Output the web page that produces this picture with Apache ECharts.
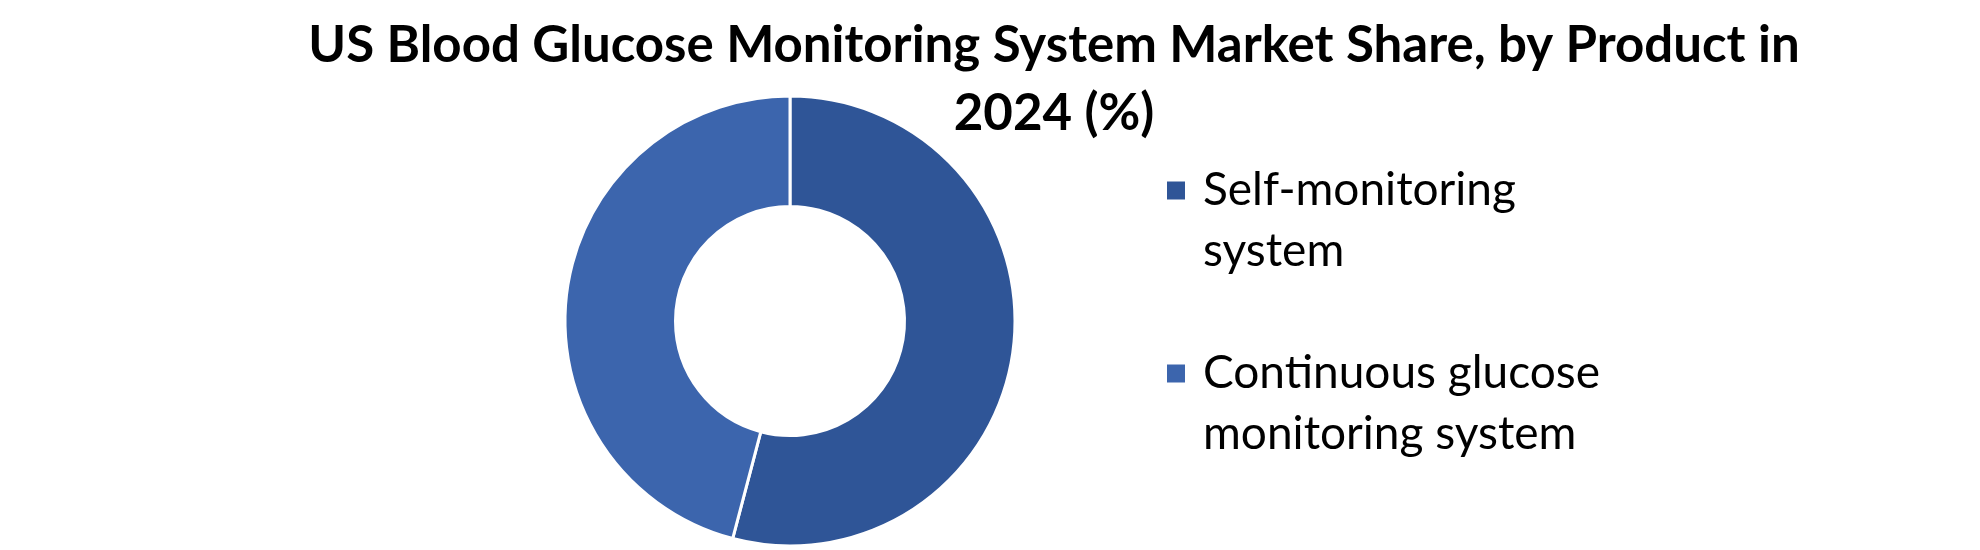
<!DOCTYPE html>
<html>
<head>
<meta charset="utf-8">
<script src="https://cdn.jsdelivr.net/npm/echarts@6/dist/echarts.min.js"></script>
<style>
html,body{margin:0;padding:0;background:#fff;}
#chart{width:1980px;height:550px;}
</style>
</head>
<body>
<div id="chart"></div>
<script>
const titleText = 'US Blood Glucose Monitoring System Market Share, by Product in\n2024 (%)';
const categories = ['Self-monitoring system', 'Continuous glucose monitoring system'];
const legendLabels = ['Self-monitoring\nsystem', 'Continuous glucose\nmonitoring system'];
const shares = [54.1, 45.9];
const colors = ['#2F5597', '#3C65AD'];

const chart = echarts.init(document.getElementById('chart'), null, {renderer: 'canvas'});
const LH = 61;
chart.setOption({
  backgroundColor: '#ffffff',
  animation: false,
  title: {
    text: titleText,
    left: 1054,
    top: 12,
    padding: 0,
    textAlign: 'center',
    textStyle: {
      fontFamily: 'Lato',
      fontWeight: 'bold',
      fontSize: 51,
      lineHeight: 68,
      color: '#000000'
    }
  },
  legend: {
    orient: 'vertical',
    left: 1165,
    top: 99,
    padding: 0,
    itemWidth: 20,
    itemHeight: 20,
    itemGap: 0,
    icon: 'rect',
    selectedMode: false,
    data: categories,
    formatter: function (name) {
      return '\n' + legendLabels[categories.indexOf(name)];
    },
    textStyle: {
      fontFamily: 'Lato',
      fontSize: 46,
      lineHeight: LH,
      color: '#000000',
      padding: [0, 0, 0, 12]
    }
  },
  series: [{
    type: 'pie',
    center: [790, 321],
    radius: [114.5, 225],
    startAngle: 90,
    clockwise: true,
    label: {show: false},
    labelLine: {show: false},
    emphasis: {disabled: true},
    itemStyle: {borderColor: '#ffffff', borderWidth: 3},
    data: categories.map(function (c, i) {
      return {name: c, value: shares[i], itemStyle: {color: colors[i]}};
    })
  }]
});
</script>
</body>
</html>
